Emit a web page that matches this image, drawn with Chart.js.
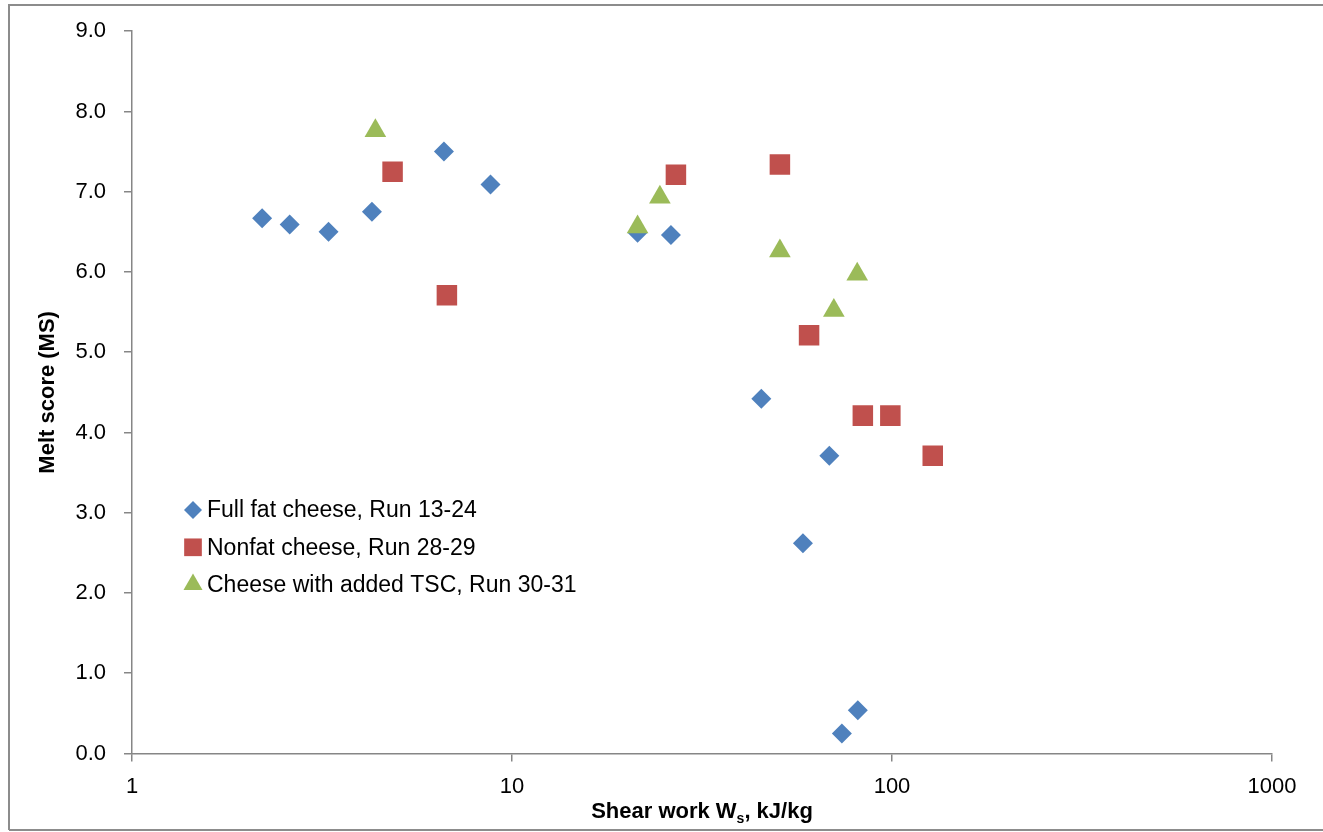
<!DOCTYPE html>
<html>
<head>
<meta charset="utf-8">
<script src="https://cdn.jsdelivr.net/npm/chart.js@4.4.0/dist/chart.umd.min.js"></script>
<style>
  html, body { margin: 0; padding: 0; background: #fff; }
  #wrap { position: relative; width: 1323px; height: 832px; }
</style>
</head>
<body>
<div id="wrap"><canvas id="chart" width="1323" height="832"></canvas></div>
<script>
// Datos (trabajo de cizalla en kJ/kg, puntuación de fusión)
const fullFatWork = [2.20, 2.60, 3.29, 4.28, 6.62, 8.78, 21.4, 26.2, 45.3, 68.4, 58.3, 81.3, 73.8]
const fullFatMelt = [6.67, 6.59, 6.50, 6.75, 7.50, 7.09, 6.49, 6.46, 4.42, 3.71, 2.62, 0.54, 0.25]

const nonfatWork = [4.85, 6.74, 27.0, 50.7, 60.5, 83.8, 99.0, 128]
const nonfatMelt = [7.25, 5.71, 7.21, 7.34, 5.21, 4.21, 4.21, 3.71]

const tscWork = [4.37, 24.5, 21.4, 50.7, 81.0, 70.3]
const tscMelt = [7.76, 6.93, 6.56, 6.26, 5.97, 5.52]

const seriesLabels = [
  "Full fat cheese, Run 13-24",
  "Nonfat cheese, Run 28-29",
  "Cheese with added TSC, Run 30-31",
]
const xTicks = [1, 10, 100, 1000]
const yMin = 0
const yMax = 9

const colors = {
  blue: "#4F81BD",
  red: "#C0504D",
  green: "#9BBB59",
  axis: "#868686",
}

const FONT = "'Liberation Sans', Arial, sans-serif"

const toPoints = (xs, ys) => xs.map((x, i) => ({ x: x, y: ys[i] }))

// Borde exterior del gráfico
const frame = {
  id: "frame",
  afterDraw(chart) {
    const ctx = chart.ctx
    ctx.save()
    ctx.strokeStyle = "#8C8C8C"
    ctx.lineWidth = 2
    ctx.beginPath()
    ctx.moveTo(9, 830)
    ctx.lineTo(9, 5)
    ctx.lineTo(1323, 5)
    ctx.moveTo(9, 830)
    ctx.lineTo(1323, 830)
    ctx.stroke()
    ctx.restore()
  },
}

// Leyenda dentro del área del gráfico
const innerLegend = {
  id: "innerLegend",
  afterDraw(chart) {
    const ctx = chart.ctx
    const left = 193
    const top = 510
    const rowGap = 37.3
    ctx.save()
    ctx.font = "23px " + FONT
    ctx.textBaseline = "middle"
    ctx.textAlign = "left"
    chart.data.datasets.forEach((ds, i) => {
      const y = top + i * rowGap
      ctx.fillStyle = ds.backgroundColor
      if (Chart.helpers && Chart.helpers.drawPoint) {
        Chart.helpers.drawPoint(ctx, {
          pointStyle: ds.pointStyle,
          radius: ds.legendRadius,
          rotation: 0,
          borderWidth: 0,
        }, left, y)
      }
      ctx.fillStyle = "#000"
      ctx.fillText(ds.label, left + 14, y + 1)
    })
    ctx.restore()
  },
}

// Título del eje X con subíndice
const xTitle = {
  id: "xTitle",
  afterDraw(chart) {
    const ctx = chart.ctx
    const area = chart.chartArea
    const cx = (area.left + area.right) / 2
    const baseY = 818
    const big = "bold 22px " + FONT
    const small = "bold 14px " + FONT
    const a = "Shear work W"
    const b = "s"
    const c = ", kJ/kg"
    ctx.save()
    ctx.fillStyle = "#000"
    ctx.textBaseline = "alphabetic"
    ctx.textAlign = "left"
    ctx.font = big
    const wa = ctx.measureText(a).width
    const wc = ctx.measureText(c).width
    ctx.font = small
    const wb = ctx.measureText(b).width
    let x = cx - (wa + wb + wc) / 2
    ctx.font = big
    ctx.fillText(a, x, baseY)
    x += wa
    ctx.font = small
    ctx.fillText(b, x, baseY + 5)
    x += wb
    ctx.font = big
    ctx.fillText(c, x, baseY)
    ctx.restore()
  },
}

new Chart(document.getElementById("chart").getContext("2d"), {
  type: "scatter",
  data: {
    datasets: [
      {
        label: seriesLabels[0],
        data: toPoints(fullFatWork, fullFatMelt),
        backgroundColor: colors.blue,
        pointStyle: "rectRot",
        pointRadius: 10,
        legendRadius: 9,
        order: 2,
      },
      {
        label: seriesLabels[1],
        data: toPoints(nonfatWork, nonfatMelt),
        backgroundColor: colors.red,
        pointStyle: "rect",
        pointRadius: 14.5,
        legendRadius: 12.5,
        order: 1,
      },
      {
        label: seriesLabels[2],
        data: toPoints(tscWork, tscMelt),
        backgroundColor: colors.green,
        pointStyle: "triangle",
        pointRadius: 12.5,
        legendRadius: 11,
        order: 0,
      },
    ],
  },
  options: {
    responsive: false,
    devicePixelRatio: 1,
    animation: false,
    layout: {
      padding: { top: 29, right: 51, left: 0, bottom: 0 },
    },
    elements: {
      point: { borderWidth: 0, hoverRadius: 10 },
    },
    scales: {
      x: {
        type: "logarithmic",
        min: 1,
        max: 1000,
        afterFit: (scale) => { scale.height = 78.5 },
        afterBuildTicks: (scale) => {
          scale.ticks = xTicks.map((v) => ({ value: v }))
        },
        ticks: {
          padding: 12,
          color: "#000",
          font: { family: FONT, size: 22 },
          maxRotation: 0,
          autoSkip: false,
          callback: (v) => String(v),
        },
        grid: {
          display: true,
          drawOnChartArea: false,
          drawTicks: true,
          tickLength: 8,
          color: colors.axis,
          lineWidth: 1.5,
        },
        border: { color: colors.axis, width: 1.5 },
      },
      y: {
        min: yMin,
        max: yMax,
        afterFit: (scale) => { scale.width = 132 },
        ticks: {
          stepSize: 1,
          padding: 18,
          color: "#000",
          font: { family: FONT, size: 22 },
          callback: (v) => v.toFixed(1),
        },
        grid: {
          display: true,
          drawOnChartArea: false,
          drawTicks: true,
          tickLength: 8,
          color: colors.axis,
          lineWidth: 1.5,
        },
        border: { color: colors.axis, width: 1.5 },
        title: {
          display: true,
          text: "Melt score (MS)",
          color: "#000",
          font: { family: FONT, size: 22, weight: "bold" },
          padding: { top: 35, bottom: 0 },
        },
      },
    },
    plugins: {
      legend: { display: false },
      tooltip: { enabled: false },
    },
  },
  plugins: [frame, innerLegend, xTitle],
})
</script>
</body>
</html>
